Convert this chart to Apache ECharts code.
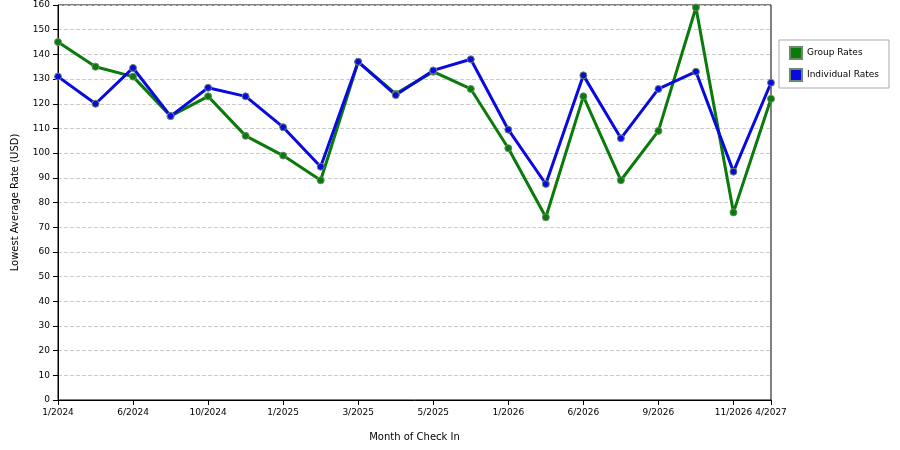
<!DOCTYPE html>
<html><head><meta charset="utf-8">
<script src="https://cdn.jsdelivr.net/npm/echarts@6/dist/echarts.min.js"></script>
<style>html,body{margin:0;background:#fff}#c{width:900px;height:450px}</style>
</head><body><div id="c"></div>
<script>
const categories = ["1/2024","3/2024","6/2024","8/2024","10/2024","12/2024","1/2025","2/2025","3/2025","4/2025","5/2025","7/2025","1/2026","3/2026","6/2026","8/2026","9/2026","10/2026","11/2026","4/2027"];
const shownLabels = ["1/2024","6/2024","10/2024","1/2025","3/2025","5/2025","1/2026","6/2026","9/2026","11/2026","4/2027"];
const groupRates = [145,135,131,115,123,107,99,89,137,124,133,126,102,74,123,89,109,159,76,122];
const individualRates = [131,120,134.5,115,126.5,123,110.5,94.5,137,123.5,133.5,138,109.5,87.5,131.5,106,126,133,92.5,128.5];
const yTicks = {min:0,max:160,interval:10};

const show = (i) => shownLabels.includes(categories[i]);
const font = {fontFamily:'DejaVu Sans',fontSize:10,color:'#000'};
const mk = (name,color,data)=>({name,type:'line',data,symbol:'circle',symbolSize:7,
  lineStyle:{color,width:3},itemStyle:{color,borderColor:'#6a8a6a',borderWidth:1},emphasis:{disabled:true}});
const chart = echarts.init(document.getElementById('c'));
chart.setOption({
  animation:false,
  grid:{left:58,right:129,top:5,bottom:50,show:true,borderColor:'#000',borderWidth:1},
  legend:{right:11,top:40,orient:'vertical',itemWidth:12,itemHeight:12,icon:'rect',
    borderColor:'#aaa',borderWidth:1,padding:[6,10,6,10],itemGap:8,textStyle:{...font,fontSize:9},
    data:['Group Rates','Individual Rates']},
  xAxis:{type:'category',data:categories,boundaryGap:false,name:'Month of Check In',nameLocation:'middle',nameGap:32,
    nameTextStyle:font,axisLine:{lineStyle:{color:'#000'}},
    axisTick:{interval:(i)=>show(i),lineStyle:{color:'#000'}},
    axisLabel:{...font,fontSize:9,interval:(i)=>show(i),showMaxLabel:true}},
  yAxis:{type:'value',...yTicks,name:'Lowest Average Rate (USD)',nameLocation:'middle',nameGap:38,
    nameTextStyle:font,axisLine:{show:true,lineStyle:{color:'#000'}},axisTick:{show:true,lineStyle:{color:'#000'}},
    axisLabel:{...font,fontSize:9},splitLine:{lineStyle:{type:'dashed',color:'#ccc'}}},
  series:[mk('Group Rates','#0a7a0a',groupRates),mk('Individual Rates','#0a0ae0',individualRates)]
});
</script></body></html>
